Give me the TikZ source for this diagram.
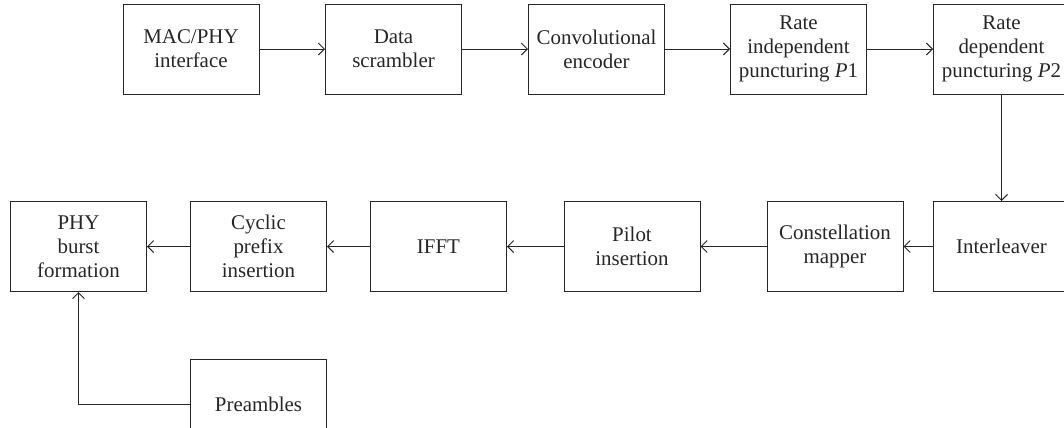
\documentclass[tikz,border=0pt]{standalone}
\usepackage{fontspec}
\setmainfont{Liberation Serif}
\usetikzlibrary{arrows.meta}
\tikzset{
  blk/.style={draw=black!85, line width=1bp, minimum width=136bp, minimum height=90bp,
    inner sep=0pt, align=center, text=black!85, font=\fontsize{21}{24}\selectfont},
  conn/.style={draw=black!85, line width=1bp, -{Straight Barb[length=6bp,width=12bp,line width=1bp]}}
}
\begin{document}
\begin{tikzpicture}[x=1bp,y=-1bp]
\useasboundingbox (0,0) rectangle (1064,427);
\clip (0,0) rectangle (1064,427);
\node[blk] (mac) at (191,49) {MAC/PHY\\interface};
\node[blk] (scr) at (393.5,49) {Data\\scrambler};
\node[blk] (conv) at (596.5,49) {Convolutional\\encoder};
\node[blk] (p1) at (798.5,49) {Rate\\independent\\puncturing \textit{P}1};
\node[blk] (p2) at (1001.5,49) {Rate\\dependent\\puncturing \textit{P}2};
\node[blk] (il) at (1001.5,246.5) {Interleaver};
\node[blk] (cm) at (835,246.5) {Constellation\\mapper};
\node[blk] (pi) at (632,246.5) {Pilot\\insertion};
\node[blk] (ifft) at (438.5,246.5) {IFFT};
\node[blk] (cp) at (258.5,246.5) {Cyclic\\prefix\\insertion};
\node[blk] (phy) at (78.5,246.5) {PHY\\burst\\formation};
\node[blk] (pre) at (258.5,404) {Preambles};
\draw[conn] (mac) -- (scr);
\draw[conn] (scr) -- (conv);
\draw[conn] (conv) -- (p1);
\draw[conn] (p1) -- (p2);
\draw[conn] (p2) -- (il);
\draw[conn] (il) -- (cm);
\draw[conn] (cm) -- (pi);
\draw[conn] (pi) -- (ifft);
\draw[conn] (ifft) -- (cp);
\draw[conn] (cp) -- (phy);
\draw[conn] (pre.west) -| (phy.south);
\end{tikzpicture}
\end{document}
